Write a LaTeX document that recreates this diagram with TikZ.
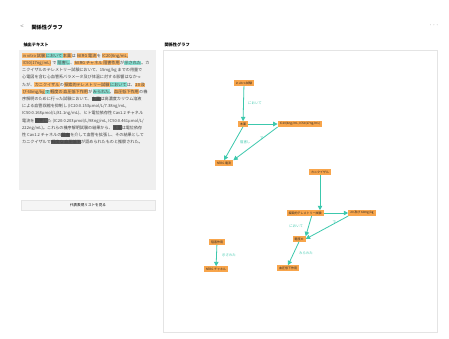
\documentclass[tikz,border=0pt]{standalone}
\usepackage{fontspec}
\setmainfont{Noto Sans CJK JP}
\usetikzlibrary{arrows.meta,positioning,calc}

\definecolor{entorange}{HTML}{F8A54B}
\definecolor{hlorange}{HTML}{FBB769}
\definecolor{hlteal}{HTML}{86DDCF}
\definecolor{relteal}{HTML}{3CC8AD}
\definecolor{panelgray}{HTML}{EFEFEF}
\definecolor{linegray}{HTML}{E4E4E4}

\setlength{\fboxsep}{0.4pt}
\newcommand{\hlo}[1]{\colorbox{hlorange}{#1}}
\newcommand{\hlt}[1]{\colorbox{hlteal}{#1}}
\newcommand{\hld}[1]{\colorbox{black!65}{#1}}

\begin{document}
\begin{tikzpicture}[x=1pt,y=-1pt,
    ent/.style={fill=entorange,inner xsep=2pt,inner ysep=1.2pt,font=\fontsize{3}{3.5}\selectfont,text=black!85},
    rel/.style={draw=relteal,line width=0.8pt,-{Triangle[length=4.4pt,width=4.4pt]}},
    lbl/.style={text=relteal,font=\fontsize{3.4}{4}\selectfont}]
        \useasboundingbox (0,0) rectangle (449,338);
        % header
        \node[text=black!45,font=\fontsize{6}{7}\selectfont] (back) at (22,27) {<};
        \node[anchor=west,font=\fontsize{5.2}{6}\selectfont\bfseries] (title) at (28,27) {関係性グラフ};
        \node[text=black!45,font=\fontsize{6}{7}\selectfont] (more) at (434,26.5) {···};
        % left panel
        \node[anchor=west,font=\fontsize{4.2}{5}\selectfont\bfseries] (lefthead) at (20,45) {抽出テキスト};
        \fill[panelgray] (19,50) rectangle (156,190);
        \foreach \t [count=\i] in {
          {\hlo{in vitro 試験}\hlt{において}\hlo{本薬}は \hlo{hERG 電流}を \hlo{IC20(6ng/mL,}},
          {\hlo{IC50(17ng/mL)} で \hlt{阻害し}、\hlo{hERG チャネル}\hlo{阻害作用}が\hlt{示された}。カ},
          {ニクイザルのテレメトリー試験において、15mg/kg までの用量で},
          {心電図を含む心血管系パラメータ及び体温に対する影響はなかっ},
          {たが、\hlo{カニクイザル}の\hlo{探索的テレメトリー試験}\hlt{において}は、\hlo{20 及}},
          {\hlo{び 60mg/kg}\hlt{で}\hlo{軽度の}\hlo{血圧低下作用}が\hlt{みられた}。\hlo{血圧低下作用}の機},
          {序解明のために行った試験において、\hld{本薬}は高濃度カリウム溶液},
          {による血管収縮を抑制し (IC20:0.153μmol/L/7.38ng/mL,},
          {IC50:0.168μmol/L/81.1ng/mL)、ヒト電位依存性 Cav1.2 チャネル},
          {電流を\hld{阻害し}た (IC20:0.203μmol/L/98ng/mL, IC50:0.461μmol/L/},
          {222ng/mL)。これらの機序解明試験の結果から、\hld{本薬}は電位依存},
          {性 Cav1.2 チャネルの\hld{阻害}を介して血管を拡張し、その結果として},
          {カニクイザルで\hld{軽度な}\hld{血圧低下}が認められたものと推察された。}} {
          \node[anchor=west,inner sep=0pt,font=\fontsize{4.1}{5}\selectfont,text=black!75] (line\i) at (22,48.6+7.2*\i) {\t};
        }
        \node[draw=linegray,fill=black!4,minimum width=134pt,minimum height=10pt,font=\fontsize{3.6}{4}\selectfont] (listbtn) at (88,205.5) {代表表現リストを見る};
        % right panel
        \node[anchor=west,font=\fontsize{4.2}{5}\selectfont\bfseries] (righthead) at (161,45) {関係性グラフ};
        \fill[black!6] (163.6,50.8) rectangle (437.8,332.8);
        \draw[linegray,fill=white] (163,50) rectangle (437,332);
        % graph nodes
        \node[ent] (invitro) at (244,83) {in vitro 試験};
        \node[ent] (drug) at (243,124) {本薬};
        \node[ent] (ic) at (300,124) {IC20(6ng/mL, IC50(17ng/mL)};
        \node[ent] (herg) at (224,163) {hERG 電流};
        \node[ent] (monkey) at (320,172) {カニクイザル};
        \node[ent] (telem) at (305,213) {探索的テレメトリー試験};
        \node[ent] (dose) at (362,213) {20 及び 60mg/kg};
        \node[ent] (mild) at (299,239) {軽度の};
        \node[ent] (bp) at (288,268) {血圧低下作用};
        \node[ent] (inhib) at (217,242) {阻害作用};
        \node[ent] (chan) at (216,269) {hERG チャネル};
        % relations
        \draw[rel] (invitro) -- node[lbl,right=1pt] (l1) {において} (drug);
        \draw[rel] (drug) -- (ic);
        \draw[rel] (drug.south) -- node[lbl,right=2pt,pos=0.45] (l2) {阻害し} (herg.north);
        \draw[rel] (ic.south west) -- node[lbl,above right=0pt and 1pt,pos=0.5] (l3) {で} (herg.north east);
        \draw[rel] (monkey.south) -- (monkey.south |- telem.north);
        \draw[rel] (telem) -- (dose);
        \draw[rel] ([xshift=-12pt]telem.south east) -- node[lbl,left=2pt] (l4) {において} (mild.north east);
        \draw[rel] (dose.south west) -- node[lbl,above right=0pt and 2pt] (l5) {で} (mild.east);
        \draw[rel] (mild.south) -- node[lbl,right=2pt] (l6) {みられた} (bp.north);
        \draw[rel] (inhib) -- node[lbl,right=2pt] (l7) {示された} (chan);
      \end{tikzpicture}
\end{document}
